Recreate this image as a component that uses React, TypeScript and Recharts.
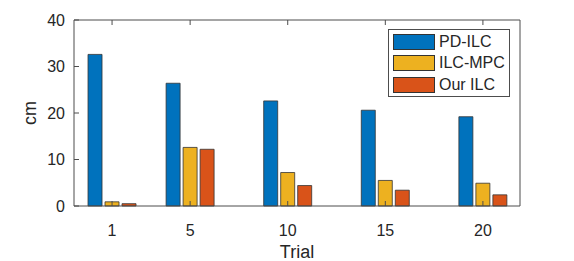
import { BarChart, Bar, XAxis, YAxis, Legend, Label } from "recharts";

const trials = [1, 5, 10, 15, 20];
const pdIlc = [32.6, 26.4, 22.6, 20.6, 19.2];
const ilcMpc = [0.9, 12.6, 7.2, 5.5, 4.9];
const ourIlc = [0.5, 12.2, 4.4, 3.4, 2.4];

const xTicks = [1, 5, 10, 15, 20];
const yTicks = [0, 10, 20, 30, 40];

const series = [
  { key: "pdIlc", name: "PD-ILC", color: "#0072BD" },
  { key: "ilcMpc", name: "ILC-MPC", color: "#EDB120" },
  { key: "ourIlc", name: "Our ILC", color: "#D95319" },
];

const data = trials.map((t, i) => ({
  trial: t,
  pdIlc: pdIlc[i],
  ilcMpc: ilcMpc[i],
  ourIlc: ourIlc[i],
}));

const font = "'Liberation Sans', Arial, Helvetica, sans-serif";
const axisColor = "#4d4d4d";
const textColor = "#262626";
const TICK_LEN = 5;
const X_MARGIN = 18;
const Y_MARGIN = 9;

// MATLAB style ticks point into the plot, so the tick line is drawn here next to the label
function BottomTick(props: any) {
  const { x, y, payload } = props;
  const axisY = y - X_MARGIN;
  return (
    <g>
      <line x1={x} x2={x} y1={axisY} y2={axisY - TICK_LEN} stroke={axisColor} />
      <text x={x} y={y} dy="0.72em" textAnchor="middle" fill={textColor} fontSize={16}>
        {payload.value}
      </text>
    </g>
  );
}

function LeftTick(props: any) {
  const { x, y, payload } = props;
  const axisX = x + Y_MARGIN;
  return (
    <g>
      <line x1={axisX} x2={axisX + TICK_LEN} y1={y} y2={y} stroke={axisColor} />
      <text x={x} y={y} dy="0.36em" textAnchor="end" fill={textColor} fontSize={16}>
        {payload.value}
      </text>
    </g>
  );
}

function TopTick(props: any) {
  const { x, y } = props;
  return <line x1={x} x2={x} y1={y} y2={y + TICK_LEN} stroke={axisColor} />;
}

function RightTick(props: any) {
  const { x, y } = props;
  return <line x1={x} x2={x - TICK_LEN} y1={y} y2={y} stroke={axisColor} />;
}

function LegendBox() {
  return (
    <div
      style={{
        position: "relative",
        width: 120,
        height: 66,
        border: `1px solid ${axisColor}`,
        background: "#fff",
        fontFamily: font,
      }}
    >
      {series.map((s, i) => (
        <div
          key={s.key}
          style={{
            position: "absolute",
            left: 4,
            top: 3.5 + i * 21.7,
            display: "flex",
            alignItems: "center",
            height: 16,
          }}
        >
          <div
            style={{
              width: 40,
              height: 14,
              background: s.color,
              border: "1px solid #333",
            }}
          />
          <span style={{ marginLeft: 4, fontSize: 16, lineHeight: "16px", color: textColor }}>
            {s.name}
          </span>
        </div>
      ))}
    </div>
  );
}

export default function App() {
  return (
    <div style={{ position: "absolute", left: 0, top: 0, width: 574, height: 261, background: "#fff" }}>
      <BarChart
        width={574}
        height={261}
        data={data}
        margin={{ top: 19, right: 53, bottom: 0, left: 0 }}
        barGap={3}
        style={{ fontFamily: font }}
      >
        <XAxis
          dataKey="trial"
          type="number"
          domain={[-0.95, 21.9]}
          ticks={xTicks}
          height={55}
          tickLine={false}
          tickSize={0}
          tickMargin={X_MARGIN}
          stroke={axisColor}
          tick={<BottomTick />}
          allowDataOverflow
        >
          <Label value="Trial" position="insideBottom" offset={3} fill={textColor} fontSize={18} />
        </XAxis>
        <XAxis
          xAxisId="top"
          orientation="top"
          dataKey="trial"
          type="number"
          domain={[-0.95, 21.9]}
          ticks={xTicks}
          height={1}
          tickLine={false}
          tickSize={0}
          tickMargin={0}
          tick={<TopTick />}
          stroke={axisColor}
          allowDataOverflow
        />
        <YAxis
          domain={[0, 40]}
          ticks={yTicks}
          width={74}
          tickLine={false}
          tickSize={0}
          tickMargin={Y_MARGIN}
          stroke={axisColor}
          tick={<LeftTick />}
        >
          <Label
            value="cm"
            angle={-90}
            position="insideLeft"
            offset={30}
            fill={textColor}
            fontSize={18}
            style={{ textAnchor: "middle" }}
          />
        </YAxis>
        <YAxis
          yAxisId="right"
          orientation="right"
          domain={[0, 40]}
          ticks={yTicks}
          width={1}
          tickLine={false}
          tickSize={0}
          tickMargin={0}
          tick={<RightTick />}
          stroke={axisColor}
        />
        <Legend
          layout="vertical"
          align="center"
          verticalAlign="middle"
          wrapperStyle={{ left: 388, top: 29, width: 122, height: 68 }}
          content={() => <LegendBox />}
        />
        {series.map((s) => (
          <Bar
            key={s.key}
            dataKey={s.key}
            name={s.name}
            fill={s.color}
            stroke="#333"
            strokeWidth={0.8}
            barSize={14}
            isAnimationActive={false}
          />
        ))}
      </BarChart>
    </div>
  );
}
